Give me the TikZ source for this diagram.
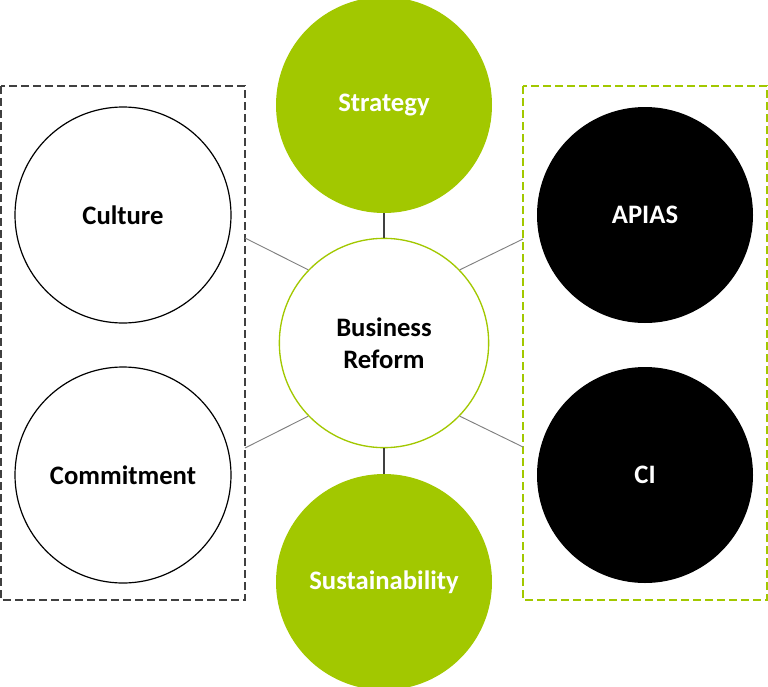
\documentclass[tikz,border=0pt]{standalone}
\usepackage{fontspec}
\setmainfont{Carlito}
\usetikzlibrary{positioning}
\definecolor{leaf}{RGB}{162,200,0}
\definecolor{spoke}{RGB}{128,128,128}
\definecolor{stem}{RGB}{64,64,64}

\begin{document}
\begin{tikzpicture}[x=0.75pt, y=-0.75pt,
	every node/.style={font=\fontsize{20}{24}\selectfont\bfseries},
	disc/.style={circle, minimum size=162pt, inner sep=0pt, align=center},
	grp/.style={line width=1pt, dash pattern=on 6pt off 3pt}]
	\useasboundingbox (0,0) rectangle (768,686);
	% dashed groups
	\draw[grp, stem] (1,86) rectangle (245,600);
	\draw[grp, leaf] (523,86) rectangle (767,600);
	
	\node[disc, draw=leaf, line width=1pt, fill=white, minimum size=157pt] (reform) at (384,343) {Business\\Reform};
	\node[disc, fill=leaf, text=white] (strategy) at (384,105) {Strategy};
	\node[disc, fill=leaf, text=white] (sustain) at (384,582) {Sustainability};
	\node[disc, draw=black, line width=0.9pt] (culture) at (123,215) {Culture};
	\node[disc, draw=black, line width=0.9pt] (commit) at (123,475) {Commitment};
	\node[disc, fill=black, text=white] (apias) at (645,215) {APIAS};
	\node[disc, fill=black, text=white] (ci) at (645,475) {CI};
	
	\coordinate (ul) at (245,238);
	\coordinate (ll) at (245,448);
	\coordinate (ur) at (523,239);
	\coordinate (lr) at (523,447);
	
	\draw[stem, line width=1.1pt] (strategy) -- (reform);
	\draw[stem, line width=1.1pt] (reform) -- (sustain);
	\draw[spoke, line width=0.7pt] (reform.136) -- (ul);
	\draw[spoke, line width=0.7pt] (reform.224) -- (ll);
	\draw[spoke, line width=0.7pt] (reform.44) -- (ur);
	\draw[spoke, line width=0.7pt] (reform.316) -- (lr);
\end{tikzpicture}
\end{document}
